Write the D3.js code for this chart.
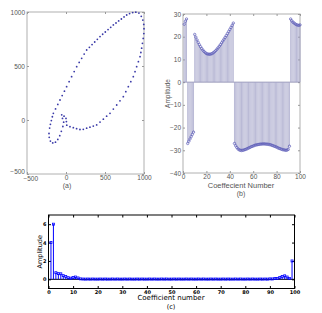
<!DOCTYPE html>
<html>
<head>
<meta charset="utf-8">
<script src="https://cdn.jsdelivr.net/npm/d3@7"></script>
<style>
  body { margin: 0; background: #fff; }
  svg { display: block; }
</style>
</head>
<body>
<div id="chart"></div>
<script>
// (a) contour points
const contourX = [-210, -200, -188, -175, -162, -134, -105, -77, -49, -20, 8, 40, 72, 105, 137, 169, 201, 233, 265,
  300, 334, 368, 402, 436, 470, 504, 539, 573, 607, 641, 675, 710, 744, 778, 815, 855, 895, 935, 965, 985, 997,
  1000, 998, 990, 980, 970, 960, 949, 928, 906, 885, 863, 831, 799, 767, 735, 692, 650, 607, 564, 521, 479, 436,
  393, 350, 307, 265, 222, 179, 136, 94, 51, 10, 5, 0, -25, -55, -45, -30, -40, -60, -80, -105, -135, -170, -200,
  -215, -218];
const contourY = [-75, -40, -5, 30, 62, 103, 144, 185, 226, 267, 309, 355, 401, 448, 494, 533, 571, 610, 648,
  673, 698, 722, 747, 772, 794, 815, 837, 858, 880, 898, 917, 935, 954, 972, 985, 995, 998, 990, 960, 925, 885,
  845, 800, 755, 710, 665, 625, 586, 540, 494, 447, 401, 355, 309, 262, 216, 178, 139, 101, 62, 35, 8, -19,
  -46, -56, -66, -76, -86, -88, -80, -71, -62, -48, -15, 15, 35, 48, 15, -20, -60, -105, -145, -180, -205, -212, -195,
  -160, -125];

// (b) coefficient amplitudes
const ampB = [25.5, 26.8, 27.8, -27, -26, -25, -24, -23, -22,
  21.0, 19.8, 18.6, 17.5, 16.5, 15.6, 14.8, 14.1, 13.5, 13.0, 12.6, 12.4, 12.3, 12.3, 12.4, 12.6, 13.0, 13.4,
  13.9, 14.5, 15.1, 15.8, 16.5, 17.3, 18.1, 18.9, 19.7, 20.5, 21.4, 22.3, 23.2, 24.1, 25.0, 26.0,
  -27.0, -28.0, -28.8, -29.4, -29.8, -30.0, -30.1, -30.0, -29.9, -29.7, -29.5, -29.3, -29.0, -28.8, -28.5, -28.3,
  -28.1, -27.9, -27.7, -27.6, -27.5, -27.4, -27.3, -27.3, -27.2, -27.2, -27.2, -27.3, -27.3, -27.4, -27.5, -27.6,
  -27.8, -28.0, -28.2, -28.4, -28.6, -28.9, -29.1, -29.3, -29.5, -29.7, -29.8, -29.9, -30.0, -29.9, -29.6, -28.2,
  27.8, 27.0, 26.4, 26.0, 25.6, 25.3, 25.1, 25.0, 25.2];

// (c) coefficient magnitudes
const ampC = [4.0, 6.0, 0.72, 0.62, 0.6, 0.4, 0.3, 0.18, 0.12, 0.2, 0.25, 0.15, 0.05,
  0.03, 0.02, 0.03, 0.02, 0.03, 0.02, 0.02, 0.03, 0.02, 0.03, 0.02, 0.02, 0.03, 0.02, 0.03, 0.02, 0.02, 0.03,
  0.02, 0.03, 0.02, 0.02, 0.03, 0.02, 0.03, 0.02, 0.02, 0.03, 0.02, 0.03, 0.02, 0.02, 0.03, 0.02, 0.03, 0.02,
  0.02, 0.03, 0.02, 0.03, 0.02, 0.02, 0.03, 0.02, 0.03, 0.02, 0.02, 0.03, 0.02, 0.03, 0.02, 0.02, 0.03, 0.02,
  0.03, 0.02, 0.02, 0.03, 0.02, 0.03, 0.02, 0.02, 0.03, 0.02, 0.03, 0.02, 0.02, 0.03, 0.02, 0.03, 0.02, 0.02,
  0.03, 0.02, 0.03, 0.02, 0.05, 0.04, 0.1, 0.08, 0.2, 0.3, 0.38, 0.25, 0.1, 2.0];

const ticksA = [-500, 0, 500, 1000];
const ticksBx = [0, 20, 40, 60, 80, 100];
const ticksBy = [-40, -30, -20, -10, 0, 10, 20, 30];
const ticksCx = [0, 10, 20, 30, 40, 50, 60, 70, 80, 90, 100];
const ticksCy = [0, 2, 4, 6];

const svg = d3.select("#chart").append("svg")
    .attr("width", 322)
    .attr("height", 313);

const grey = "#9a9a9a";
const txt = "#555";
const fmt = d3.format("d");

function styleAxis(g, color, font, size, weight) {
    g.selectAll(".domain").remove();
    g.selectAll("line").attr("stroke", color);
    g.selectAll("text")
        .attr("fill", color === grey ? txt : "#000")
        .style("font-family", font)
        .style("font-size", size + "px")
        .style("font-weight", weight || "normal");
}

// ---------- (a) ----------
const ax = d3.scaleLinear().domain([-500, 1000]).range([27, 144]);
const ay = d3.scaleLinear().domain([-500, 1000]).range([174, 12]);
const fontA = "Liberation Sans, Arial, sans-serif";

svg.append("rect")
    .attr("x", 27).attr("y", 12).attr("width", 117).attr("height", 162)
    .attr("fill", "none").attr("stroke", "#b0b0b0");

svg.append("g").attr("transform", "translate(27,0)")
    .call(d3.axisLeft(ay).tickValues(ticksA).tickFormat(fmt).tickSize(-2).tickPadding(2))
    .call(g => styleAxis(g, grey, fontA, 6.5))
    .call(g => g.selectAll("text").filter(d => d === -500).attr("dy", "-0.1em"));
svg.append("g").attr("transform", "translate(0,174)")
    .call(d3.axisBottom(ax).tickValues(ticksA).tickFormat(fmt).tickSize(-2).tickPadding(1))
    .call(g => styleAxis(g, grey, fontA, 6.5))
    .call(g => g.selectAll("text").filter(d => d === -500).attr("dy", "0.95em").attr("dx", "0.5em"));
svg.append("g").attr("transform", "translate(0,12)")
    .call(d3.axisTop(ax).tickValues(ticksA).tickSize(-2).tickFormat(""))
    .call(g => styleAxis(g, grey, fontA, 6.5));
svg.append("g").attr("transform", "translate(144,0)")
    .call(d3.axisRight(ay).tickValues(ticksA).tickSize(-2).tickFormat(""))
    .call(g => styleAxis(g, grey, fontA, 6.5));

svg.append("g").selectAll("circle")
    .data(d3.range(contourX.length))
    .join("circle")
    .attr("cx", i => ax(contourX[i]))
    .attr("cy", i => ay(contourY[i]))
    .attr("r", 0.9)
    .attr("fill", "#3a3aa8");

svg.append("text").attr("x", 67).attr("y", 188).attr("text-anchor", "middle")
    .attr("fill", txt).style("font-family", fontA).style("font-size", "7px").text("(a)");

// ---------- (b) ----------
const bx = d3.scaleLinear().domain([0, 100]).range([183, 300]);
const by = d3.scaleLinear().domain([-40, 30]).range([173, 14]);

svg.append("rect")
    .attr("x", 183).attr("y", 14).attr("width", 117).attr("height", 159)
    .attr("fill", "none").attr("stroke", "#b0b0b0");

svg.append("g").attr("transform", "translate(183,0)")
    .call(d3.axisLeft(by).tickValues(ticksBy).tickSize(-2).tickPadding(2))
    .call(g => styleAxis(g, grey, fontA, 6.5));
svg.append("g").attr("transform", "translate(0,173)")
    .call(d3.axisBottom(bx).tickValues(ticksBx).tickSize(-2).tickPadding(1))
    .call(g => styleAxis(g, grey, fontA, 6.5));
svg.append("g").attr("transform", "translate(0,14)")
    .call(d3.axisTop(bx).tickValues(ticksBx).tickSize(-2).tickFormat(""))
    .call(g => styleAxis(g, grey, fontA, 6.5));
svg.append("g").attr("transform", "translate(300,0)")
    .call(d3.axisRight(by).tickValues(ticksBy).tickSize(-2).tickFormat(""))
    .call(g => styleAxis(g, grey, fontA, 6.5));

svg.append("line")
    .attr("x1", bx(0)).attr("x2", bx(100)).attr("y1", by(0)).attr("y2", by(0))
    .attr("stroke", "#8888aa").attr("stroke-width", 0.8);

svg.append("g").selectAll("line")
    .data(ampB)
    .join("line")
    .attr("x1", (d, i) => bx(i + 1)).attr("x2", (d, i) => bx(i + 1))
    .attr("y1", by(0)).attr("y2", d => by(d))
    .attr("stroke", "#9c9cc4").attr("stroke-width", 0.7);

svg.append("g").selectAll("circle")
    .data(ampB)
    .join("circle")
    .attr("cx", (d, i) => bx(i + 1))
    .attr("cy", d => by(d))
    .attr("r", 1.2)
    .attr("fill", "none")
    .attr("stroke", "#5a5ab8")
    .attr("stroke-width", 0.7);

svg.append("text")
    .attr("transform", `translate(170,${by(-5)}) rotate(-90)`)
    .attr("text-anchor", "middle")
    .attr("fill", txt).style("font-family", fontA).style("font-size", "6.5px").text("Amplitude");
svg.append("text").attr("x", 241).attr("y", 188).attr("text-anchor", "middle")
    .attr("fill", txt).style("font-family", fontA).style("font-size", "7.5px").text("Coeffecient Number");
svg.append("text").attr("x", 241).attr("y", 196).attr("text-anchor", "middle")
    .attr("fill", txt).style("font-family", fontA).style("font-size", "7px").text("(b)");

// ---------- (c) ----------
const cx = d3.scaleLinear().domain([0, 100]).range([48.5, 294.5]);
const cy = d3.scaleLinear().domain([-1, 7]).range([288.5, 215]);
const fontC = "DejaVu Sans, sans-serif";

svg.append("g").attr("transform", "translate(48.5,0)")
    .call(d3.axisLeft(cy).tickValues(ticksCy).tickSize(-2.5).tickPadding(2))
    .call(g => styleAxis(g, "#000", fontC, 5, "bold"));
svg.append("g").attr("transform", "translate(0,288.5)")
    .call(d3.axisBottom(cx).tickValues(ticksCx).tickSize(-2.5).tickPadding(1.5))
    .call(g => styleAxis(g, "#000", fontC, 5, "bold"));
svg.append("g").attr("transform", "translate(0,215)")
    .call(d3.axisTop(cx).tickValues(ticksCx).tickSize(-2.5).tickFormat(""))
    .call(g => styleAxis(g, "#000", fontC, 5));
svg.append("g").attr("transform", "translate(294.5,0)")
    .call(d3.axisRight(cy).tickValues(ticksCy).tickSize(-2.5).tickFormat(""))
    .call(g => styleAxis(g, "#000", fontC, 5));

svg.append("line")
    .attr("x1", cx(0)).attr("x2", cx(100)).attr("y1", cy(0)).attr("y2", cy(0))
    .attr("stroke", "#000").attr("stroke-width", 1);

svg.append("g").selectAll("line")
    .data(ampC)
    .join("line")
    .attr("x1", (d, i) => cx(i + 1)).attr("x2", (d, i) => cx(i + 1))
    .attr("y1", cy(0)).attr("y2", d => cy(d))
    .attr("stroke", "#0000ff").attr("stroke-width", 1);

svg.append("g").selectAll("rect")
    .data(ampC)
    .join("rect")
    .attr("x", (d, i) => cx(i + 1) - 1)
    .attr("y", d => cy(d) - 1)
    .attr("width", 2).attr("height", 2)
    .attr("fill", "none")
    .attr("stroke", "#0000ff")
    .attr("stroke-width", 0.8);

svg.append("rect")
    .attr("x", 48.5).attr("y", 215).attr("width", 246).attr("height", 73.5)
    .attr("fill", "none").attr("stroke", "#000").attr("stroke-width", 1);

svg.append("text")
    .attr("transform", `translate(42,${cy(3)}) rotate(-90)`)
    .attr("text-anchor", "middle")
    .attr("fill", "#000").style("font-family", fontC).style("font-size", "6.5px").text("Amplitude");
svg.append("text").attr("x", 171).attr("y", 300).attr("text-anchor", "middle")
    .attr("fill", "#000").style("font-family", fontC).style("font-size", "7px").text("Coefficient number");
svg.append("text").attr("x", 171).attr("y", 309).attr("text-anchor", "middle")
    .attr("fill", "#000").style("font-family", fontC).style("font-size", "6.5px").text("(c)");
</script>
</body>
</html>
